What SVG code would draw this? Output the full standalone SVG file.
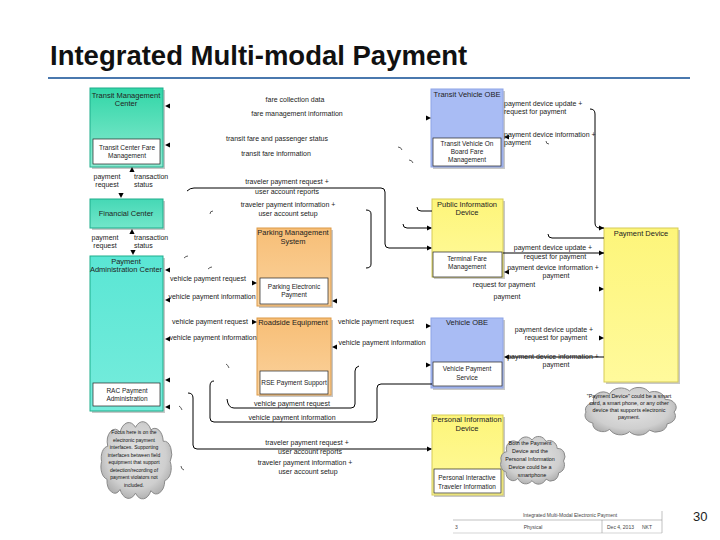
<svg xmlns="http://www.w3.org/2000/svg" xmlns:xlink="http://www.w3.org/1999/xlink" width="720" height="540" viewBox="0 0 720 540">
<style>
text{font-family:"Liberation Sans",Arial,sans-serif;fill:#222}
.l{font-size:7px;text-anchor:middle}
.ls{font-size:7px;text-anchor:start}
.t{font-size:7.5px;text-anchor:middle}
.i{font-size:6.5px;text-anchor:middle}
.c{font-size:5.4px;text-anchor:middle;fill:#111}
.f{font-size:5px;fill:#444}
.ln{fill:none;stroke:#000;stroke-width:1}
.tk{fill:none;stroke:#333;stroke-width:0.8}
.sh{fill:#9a9a9a;opacity:.55}
.inner{fill:#fff;stroke:#222;stroke-width:.7}
.teal{stroke:#1fae8c;stroke-width:1}
.orng{stroke:#dc9a48;stroke-width:1}
.blue{fill:#a9bcf4;stroke:#8ea4e6;stroke-width:1}
.yel{stroke:#d6cc58;stroke-width:1}
</style>
<defs>
<linearGradient id="gTMC" x1="0" y1="0" x2="0" y2="1"><stop offset="0" stop-color="#31d6a7"/><stop offset="1" stop-color="#8debd2"/></linearGradient>
<linearGradient id="gFC" x1="0" y1="0" x2="0" y2="1"><stop offset="0" stop-color="#45d8b5"/><stop offset="1" stop-color="#72e6ca"/></linearGradient>
<linearGradient id="gPAC" x1="0" y1="0" x2="0" y2="1"><stop offset="0" stop-color="#5ae6d4"/><stop offset="1" stop-color="#76ecdc"/></linearGradient>
<linearGradient id="gOr" x1="0" y1="0" x2="0" y2="1"><stop offset="0" stop-color="#f7be76"/><stop offset="1" stop-color="#fbd39e"/></linearGradient>
<linearGradient id="gYe" x1="0" y1="0" x2="0" y2="1"><stop offset="0" stop-color="#fdf57a"/><stop offset="1" stop-color="#fffa9c"/></linearGradient>
<radialGradient id="gCl" cx=".5" cy=".45" r=".6"><stop offset="0" stop-color="#e4e4e4"/><stop offset=".7" stop-color="#cfcfcf"/><stop offset="1" stop-color="#a9a9a9"/></radialGradient>
<symbol id="cloud" viewBox="0 0 100 60" preserveAspectRatio="none" overflow="visible">
<path d="M14,20 A10,10 0 0 1 30,9 A12,12 0 0 1 50,5 A12,12 0 0 1 70,7 A11,11 0 0 1 86,16 A10,10 0 0 1 95,32 A10,10 0 0 1 88,47 A11,11 0 0 1 70,55 A12,12 0 0 1 50,57 A12,12 0 0 1 30,54 A10,10 0 0 1 13,46 A10,10 0 0 1 6,32 A9,9 0 0 1 14,20 Z" fill="url(#gCl)" stroke="#8a8a8a" stroke-width="1" vector-effect="non-scaling-stroke"/>
</symbol>
<path id="ah" d="M0,0 L-5,-2.6 L-5,2.6 Z" fill="#000"/>
</defs>

<rect width="720" height="540" fill="#fff"/>
<text x="50" y="65" style="font-size:27.5px;font-weight:bold;fill:#111">Integrated Multi-modal Payment</text>
<line x1="48" y1="78" x2="690" y2="78" stroke="#4a78ae" stroke-width="2"/>

<g id="tmc">
<rect class="sh" x="92" y="90" width="73" height="79"/>
<rect class="teal" x="90" y="88" width="73" height="79" fill="url(#gTMC)"/>
<text class="t" x="126" y="98">Transit Management</text>
<text class="t" x="126" y="106">Center</text>
<rect class="inner" x="93" y="139" width="67" height="25"/>
<text class="i" x="127" y="150">Transit Center Fare</text>
<text class="i" x="127" y="158">Management</text>
</g>

<g id="fc">
<rect class="sh" x="92" y="201" width="73" height="29"/>
<rect class="teal" x="90" y="199" width="73" height="29" fill="url(#gFC)"/>
<text class="t" x="126" y="216">Financial Center</text>
</g>

<g id="pac">
<rect class="sh" x="92" y="258" width="73" height="155"/>
<rect class="teal" x="90" y="256" width="73" height="155" fill="url(#gPAC)"/>
<text class="t" x="126" y="264">Payment</text>
<text class="t" x="126" y="272">Administration Center</text>
<rect class="inner" x="93" y="383" width="67" height="23"/>
<text class="i" x="127" y="393">RAC Payment</text>
<text class="i" x="127" y="401">Administration</text>
</g>

<g id="pms">
<rect class="sh" x="259" y="230" width="74" height="78"/>
<rect class="orng" x="257" y="228" width="74" height="78" fill="url(#gOr)"/>
<text class="t" x="293" y="235">Parking Management</text>
<text class="t" x="293" y="244">System</text>
<rect class="inner" x="260" y="278" width="68" height="26"/>
<text class="i" x="294" y="289">Parking Electronic</text>
<text class="i" x="294" y="297">Payment</text>
</g>

<g id="rse">
<rect class="sh" x="259" y="320" width="74" height="77"/>
<rect class="orng" x="257" y="318" width="74" height="77" fill="url(#gOr)"/>
<text class="t" x="293" y="325">Roadside Equipment</text>
<rect class="inner" x="260" y="371" width="68" height="23"/>
<text class="i" x="294" y="385">RSE Payment Support</text>
</g>

<g id="tvobe">
<rect class="sh" x="433" y="91" width="72" height="78"/>
<rect class="blue" x="431" y="89" width="72" height="78"/>
<text class="t" x="467" y="97">Transit Vehicle OBE</text>
<rect class="inner" x="433" y="138" width="68" height="28"/>
<text class="i" x="467" y="146">Transit Vehicle On</text>
<text class="i" x="467" y="154">Board Fare</text>
<text class="i" x="467" y="162">Management</text>
</g>

<g id="pid">
<rect class="sh" x="434" y="201" width="71" height="78"/>
<rect class="yel" x="432" y="199" width="71" height="78" fill="url(#gYe)"/>
<text class="t" x="467" y="207">Public Information</text>
<text class="t" x="467" y="215">Device</text>
<rect class="inner" x="433" y="252" width="69" height="25"/>
<text class="i" x="467" y="261">Terminal Fare</text>
<text class="i" x="467" y="269">Management</text>
</g>

<g id="pd">
<rect class="sh" x="606" y="230" width="74" height="154"/>
<rect class="yel" x="604" y="228" width="74" height="154" fill="url(#gYe)"/>
<text class="t" x="641" y="236">Payment Device</text>
</g>

<g id="vobe">
<rect class="sh" x="433" y="320" width="72" height="70"/>
<rect class="blue" x="431" y="318" width="72" height="70"/>
<text class="t" x="467" y="325">Vehicle OBE</text>
<rect class="inner" x="433" y="362" width="69" height="24"/>
<text class="i" x="467" y="371">Vehicle Payment</text>
<text class="i" x="467" y="380">Service</text>
</g>

<g id="persid">
<rect class="sh" x="434" y="417" width="71" height="80"/>
<rect class="yel" x="432" y="415" width="71" height="80" fill="url(#gYe)"/>
<text class="t" x="467" y="422">Personal Information</text>
<text class="t" x="467" y="431">Device</text>
<rect class="inner" x="434" y="469" width="67" height="24"/>
<text class="i" x="467" y="480">Personal Interactive</text>
<text class="i" x="467" y="489">Traveler Information</text>
</g>

<g id="note-left">
<use xlink:href="#cloud" href="#cloud" x="97" y="421" width="77" height="76"/>
<text class="c" x="134" y="434" style="font-size:5px">Focus here is on the</text>
<text class="c" x="134" y="441.5" style="font-size:5px">electronic payment</text>
<text class="c" x="134" y="449" style="font-size:5px">interfaces. Supporting</text>
<text class="c" x="134" y="456.5" style="font-size:5px">interfaces between field</text>
<text class="c" x="134" y="464" style="font-size:5px">equipment that support</text>
<text class="c" x="134" y="471.5" style="font-size:5px">detection/recording of</text>
<text class="c" x="134" y="479" style="font-size:5px">payment violators not</text>
<text class="c" x="134" y="486.5" style="font-size:5px">included.</text>
</g>

<g id="note-mid">
<use xlink:href="#cloud" href="#cloud" x="497" y="436" width="70" height="47"/>
<text class="c" x="530" y="445">Both the Payment</text>
<text class="c" x="530" y="453">Device and the</text>
<text class="c" x="530" y="461">Personal Information</text>
<text class="c" x="530" y="469">Device could be a</text>
<text class="c" x="532" y="477">smartphone</text>
</g>

<g id="note-right">
<use xlink:href="#cloud" href="#cloud" x="580" y="387" width="99" height="47"/>
<text class="c" x="629" y="398">"Payment Device" could be a smart</text>
<text class="c" x="629" y="405">card, a smart phone, or any other</text>
<text class="c" x="629" y="412">device that supports electronic</text>
<text class="c" x="629" y="419">payment.</text>
</g>

<g id="connectors">
<path class="ln" d="M187,191 Q190,188 194,188 L381,188 Q385,188 385,192 L385,244 Q385,248 389,248 L431,248"/>
<path class="ln" d="M366,210 Q371,210 371,214 L371,264 Q371,268 366,268"/>
<path class="ln" d="M417,207 Q417,211 421,211 L432,211"/>
<path class="ln" d="M403,224 Q403,228 407,228 L431,228"/>
<path class="ln" d="M590,109 Q595,109 595,114 L595,223 Q595,228 600,228 L604,228"/>
<path class="ln" d="M548,234 Q548,238 552,238 L604,238"/>
<line class="ln" x1="503" y1="253" x2="604" y2="253"/>
<line class="ln" x1="506" y1="357" x2="604" y2="357"/>
<path class="ln" d="M227,399 Q228,408 234,408 L351,408 Q355,408 355,404 L355,371 Q355,367 359,366"/>
<path class="ln" d="M214,381 Q210,381 210,386 L210,418 Q210,422 214,422 L373,422 Q377,422 377,418 L377,388 Q377,384 381,384 L432,384"/>
<path class="ln" d="M188,393 Q193,393 193,398 L193,445 Q193,449 197,449 L431,449"/>
<path class="tk" d="M210,214 Q210,211 213,211"/>
<path class="tk" d="M184,258 Q186,256 188,256"/>
<path class="tk" d="M208,269 Q210,267 212,267"/>
<path class="tk" d="M398,147 Q401,147 402,150"/>
<path class="tk" d="M409,160 Q412,160 413,163"/>
<path class="tk" d="M546,141 Q546,144 549,144"/>
<path class="tk" d="M226,364 Q228,365 229,368"/>
<path class="tk" d="M179,406 Q181,407 182,410"/>
<path class="tk" d="M181,466 Q181,469 184,470"/>
<use href="#ah" xlink:href="#ah" transform="translate(165,106) rotate(180)"/>
<use href="#ah" xlink:href="#ah" transform="translate(165,145) rotate(180)"/>
<use href="#ah" xlink:href="#ah" transform="translate(132,167) rotate(-90)"/>
<use href="#ah" xlink:href="#ah" transform="translate(121,198) rotate(90)"/>
<use href="#ah" xlink:href="#ah" transform="translate(132,229) rotate(-90)"/>
<use href="#ah" xlink:href="#ah" transform="translate(133,255) rotate(90)"/>
<use href="#ah" xlink:href="#ah" transform="translate(165,270) rotate(180)"/>
<use href="#ah" xlink:href="#ah" transform="translate(165,300) rotate(180)"/>
<use href="#ah" xlink:href="#ah" transform="translate(165,339) rotate(180)"/>
<use href="#ah" xlink:href="#ah" transform="translate(165,380) rotate(180)"/>
<use href="#ah" xlink:href="#ah" transform="translate(165,407) rotate(180)"/>
<use href="#ah" xlink:href="#ah" transform="translate(257,283)"/>
<use href="#ah" xlink:href="#ah" transform="translate(332,301) rotate(180)"/>
<use href="#ah" xlink:href="#ah" transform="translate(257,322)"/>
<use href="#ah" xlink:href="#ah" transform="translate(332,347) rotate(180)"/>
<use href="#ah" xlink:href="#ah" transform="translate(431,118)"/>
<use href="#ah" xlink:href="#ah" transform="translate(504,137) rotate(180)"/>
<use href="#ah" xlink:href="#ah" transform="translate(432,228)"/>
<use href="#ah" xlink:href="#ah" transform="translate(432,248)"/>
<use href="#ah" xlink:href="#ah" transform="translate(504,272) rotate(180)"/>
<use href="#ah" xlink:href="#ah" transform="translate(431,326)"/>
<use href="#ah" xlink:href="#ah" transform="translate(431,365)"/>
<use href="#ah" xlink:href="#ah" transform="translate(504,357) rotate(180)"/>
<use href="#ah" xlink:href="#ah" transform="translate(604,228)"/>
<use href="#ah" xlink:href="#ah" transform="translate(604,253)"/>
<use href="#ah" xlink:href="#ah" transform="translate(604,289)"/>
<use href="#ah" xlink:href="#ah" transform="translate(604,338)"/>
<use href="#ah" xlink:href="#ah" transform="translate(432,449)"/>
<text class="l" x="107" y="179">payment</text>
<text class="l" x="107" y="187">request</text>
<text class="ls" x="134" y="179">transaction</text>
<text class="ls" x="134" y="187">status</text>
<text class="l" x="105" y="240">payment</text>
<text class="l" x="105" y="248">request</text>
<text class="ls" x="134" y="240">transaction</text>
<text class="ls" x="134" y="248">status</text>
<text class="l" x="295" y="102">fare collection data</text>
<text class="l" x="297" y="116">fare management information</text>
<text class="l" x="277" y="141">transit fare and passenger status</text>
<text class="l" x="276" y="156">transit fare information</text>
<text class="l" x="287" y="184">traveler payment request +</text>
<text class="l" x="287" y="194">user account reports</text>
<text class="l" x="288" y="207">traveler payment information +</text>
<text class="l" x="288" y="216">user account setup</text>
<text class="l" x="208" y="281">vehicle payment request</text>
<text class="l" x="212" y="299">vehicle payment information</text>
<text class="l" x="210" y="324">vehicle payment request</text>
<text class="l" x="213" y="340">vehicle payment information</text>
<text class="l" x="376" y="324">vehicle payment request</text>
<text class="l" x="382" y="345">vehicle payment information</text>
<text class="l" x="292" y="406">vehicle payment request</text>
<text class="l" x="292" y="420">vehicle payment information</text>
<text class="l" x="307" y="445">traveler payment request +</text>
<text class="l" x="310" y="454">user account reports</text>
<text class="l" x="305" y="465">traveler payment information +</text>
<text class="l" x="308" y="474">user account setup</text>
<text class="ls" x="504" y="106">payment device update +</text>
<text class="ls" x="504" y="114">request for payment</text>
<text class="ls" x="504" y="137">payment device information +</text>
<text class="ls" x="504" y="145">payment</text>
<text class="l" x="553" y="250">payment device update +</text>
<text class="l" x="555" y="259">request for payment</text>
<text class="l" x="553" y="270">payment device information +</text>
<text class="l" x="556" y="278">payment</text>
<text class="l" x="504" y="287">request for payment</text>
<text class="l" x="507" y="299">payment</text>
<text class="l" x="554" y="332">payment device update +</text>
<text class="l" x="556" y="340">request for payment</text>
<text class="l" x="553" y="359">payment device information +</text>
<text class="l" x="556" y="367">payment</text>
</g>

<g id="footer">
<line x1="453" y1="520" x2="662" y2="520" stroke="#999" stroke-width=".6"/>
<line x1="453" y1="533" x2="662" y2="533" stroke="#bbb" stroke-width=".6"/>
<line x1="662" y1="511" x2="662" y2="533" stroke="#999" stroke-width=".6"/>
<line x1="602" y1="520" x2="602" y2="533" stroke="#999" stroke-width=".6"/>
<text class="f" x="570" y="517" text-anchor="middle">Integrated Multi-Modal Electronic Payment</text>
<text class="f" x="455" y="529">3</text>
<text class="f" x="533" y="529" text-anchor="middle">Physical</text>
<text class="f" x="607" y="529">Dec 4, 2013</text>
<text class="f" x="642" y="529">NKT</text>
<text x="693" y="521" style="font-size:13px;fill:#222">30</text>
</g>
</svg>
